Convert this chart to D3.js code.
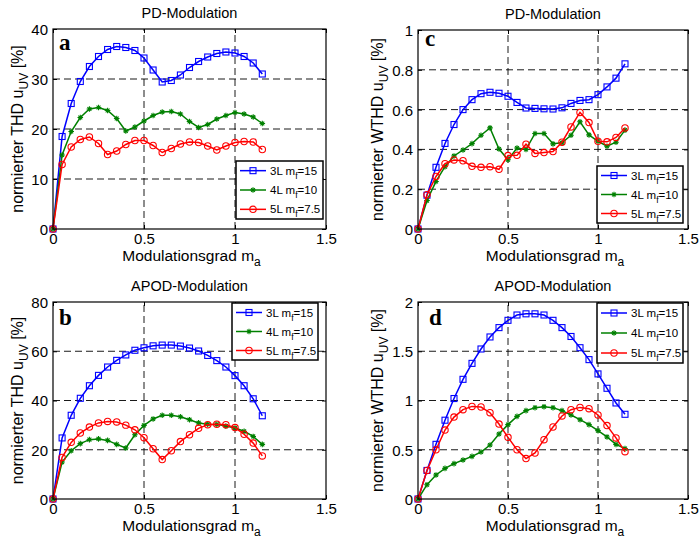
<!DOCTYPE html>
<html>
<head>
<meta charset="utf-8">
<script src="https://cdn.jsdelivr.net/npm/d3@7"></script>
<style>
  body { margin: 0; background: #fff; }
  text { font-family: "Liberation Sans", Arial, sans-serif; fill: #000; }
</style>
</head>
<body>
<svg id="fig" width="699" height="539"></svg>
<script>
// Modulation index samples (x axis, shared by all panels)
const ma = [0, 0.05, 0.1, 0.15, 0.2, 0.25, 0.3, 0.35, 0.4, 0.45, 0.5, 0.55,
            0.6, 0.65, 0.7, 0.75, 0.8, 0.85, 0.9, 0.95, 1.0, 1.05, 1.1, 1.15];

// (a) PD modulation, normalised THD [%]
const pdThd3L = [0, 18.5, 25.1, 29.5, 32.5, 34.5, 35.9, 36.5, 36.3, 35.7, 34.2, 31.8,
                 29.4, 29.7, 30.8, 32.3, 33.5, 34.4, 35.1, 35.4, 35.2, 34.5, 33.2, 31.0];
const pdThd4L = [0, 14.8, 19.5, 22.3, 24.0, 24.3, 23.7, 22.1, 19.6, 20.4, 21.6, 22.7,
                 23.4, 23.5, 23.0, 21.5, 20.3, 20.9, 22.0, 22.7, 23.3, 23.0, 22.4, 21.1];
const pdThd5L = [0, 12.9, 16.4, 17.9, 18.4, 17.1, 14.9, 15.6, 16.9, 17.7, 17.7, 16.7,
                 15.3, 16.1, 17.0, 17.4, 17.3, 16.6, 15.8, 16.6, 17.3, 17.5, 17.4, 15.9];

// (c) PD modulation, normalised WTHD [%]
const pdWthd3L = [0, 0.17, 0.31, 0.43, 0.525, 0.60, 0.65, 0.68, 0.687, 0.682, 0.667, 0.636,
                  0.608, 0.606, 0.604, 0.603, 0.609, 0.631, 0.646, 0.65, 0.675, 0.714, 0.758, 0.83];
const pdWthd4L = [0, 0.143, 0.239, 0.313, 0.367, 0.397, 0.429, 0.471, 0.508, 0.402, 0.348, 0.407,
                  0.40, 0.48, 0.48, 0.428, 0.433, 0.471, 0.539, 0.473, 0.441, 0.416, 0.436, 0.497];
const pdWthd5L = [0, 0.172, 0.264, 0.328, 0.347, 0.343, 0.315, 0.31, 0.313, 0.30, 0.369, 0.37,
                  0.426, 0.38, 0.384, 0.389, 0.436, 0.513, 0.586, 0.535, 0.441, 0.438, 0.46, 0.508];

// (b) APOD modulation, normalised THD [%]
const apodThd3L = [0, 24.8, 34.0, 40.9, 46.0, 50.2, 53.6, 56.3, 58.5, 60.4, 61.4, 62.2,
                   62.5, 62.5, 62.1, 61.3, 60.1, 58.3, 56.2, 53.6, 50.1, 46.0, 40.7, 33.8];
const apodThd4L = [0, 15.0, 19.6, 22.5, 24.1, 24.4, 23.8, 22.2, 20.7, 26.1, 29.9, 32.5,
                   34.0, 34.0, 33.4, 32.2, 30.9, 30.4, 30.3, 29.6, 28.8, 27.5, 25.4, 22.2];
const apodThd5L = [0, 16.9, 23.0, 26.8, 29.2, 30.9, 31.5, 31.3, 30.0, 28.1, 24.9, 20.4,
                   16.0, 19.6, 23.3, 26.1, 28.7, 30.2, 30.4, 30.2, 29.0, 26.3, 22.7, 17.5];

// (d) APOD modulation, normalised WTHD [%]
const apodWthd3L = [0, 0.29, 0.555, 0.80, 1.02, 1.215, 1.377, 1.523, 1.645, 1.74, 1.814, 1.868,
                    1.88, 1.88, 1.868, 1.814, 1.74, 1.65, 1.536, 1.415, 1.27, 1.124, 0.975, 0.86];
const apodWthd4L = [0, 0.145, 0.244, 0.311, 0.359, 0.396, 0.433, 0.477, 0.548, 0.66, 0.755, 0.839,
                    0.897, 0.927, 0.937, 0.927, 0.897, 0.853, 0.805, 0.755, 0.694, 0.63, 0.555, 0.511];
const apodWthd5L = [0, 0.29, 0.50, 0.70, 0.832, 0.907, 0.94, 0.934, 0.876, 0.761, 0.626, 0.50,
                    0.41, 0.467, 0.602, 0.731, 0.843, 0.907, 0.93, 0.917, 0.853, 0.745, 0.62, 0.48];

// Axis ticks
const xTicks = [0, 0.5, 1, 1.5];
const yTicksThdPD = [0, 10, 20, 30, 40];
const yTicksWthdPD = [0, 0.2, 0.4, 0.6, 0.8, 1];
const yTicksThdAPOD = [0, 20, 40, 60, 80];
const yTicksWthdAPOD = [0, 0.5, 1, 1.5, 2];

// Legend entries: prefix, subscript, suffix
const legendPrefix = ["3L m", "4L m", "5L m"];
const legendSub = ["f", "f", "f"];
const legendSuffix = ["=15", "=10", "=7.5"];

const seriesColors = ["#0000ff", "#008000", "#ff0000"];
const seriesMarkers = ["square", "star", "circle"];

const svg = d3.select("#fig");
svg.append("rect").attr("width", 699).attr("height", 539).attr("fill", "#fff");

const panels = [
  { letter: "a", title: "PD-Modulation", ylab: "normierter THD u", series: [pdThd3L, pdThd4L, pdThd5L],
    yTicks: yTicksThdPD, fmt: d => d3.format("d")(d),
    box: { l: 53, r: 326, t: 29, b: 229 }, ylabX: 23, letterPos: [59, 50],
    legend: { x: 236, y: 161, w: 87, h: 58 } },
  { letter: "c", title: "PD-Modulation", ylab: "normierter WTHD u", series: [pdWthd3L, pdWthd4L, pdWthd5L],
    yTicks: yTicksWthdPD, fmt: d => (d === 0 || d === 1) ? String(d) : d3.format(".1f")(d),
    box: { l: 418, r: 688, t: 30, b: 229 }, ylabX: 383, letterPos: [425, 46],
    legend: { x: 597, y: 166, w: 86, h: 57 } },
  { letter: "b", title: "APOD-Modulation", ylab: "normierter THD u", series: [apodThd3L, apodThd4L, apodThd5L],
    yTicks: yTicksThdAPOD, fmt: d => d3.format("d")(d),
    box: { l: 53, r: 326, t: 302, b: 499 }, ylabX: 23, letterPos: [59, 325],
    legend: { x: 232, y: 303, w: 86, h: 57 } },
  { letter: "d", title: "APOD-Modulation", ylab: "normierter WTHD u", series: [apodWthd3L, apodWthd4L, apodWthd5L],
    yTicks: yTicksWthdAPOD, fmt: d => String(d),
    box: { l: 418, r: 688, t: 302, b: 499 }, ylabX: 383, letterPos: [429, 325],
    legend: { x: 597, y: 303, w: 86, h: 60 } }
];

// Marker drawing helper
function drawMarker(g, kind, color, cx, cy) {
  if (kind === "square") {
    g.append("rect").attr("x", cx - 3).attr("y", cy - 3).attr("width", 6).attr("height", 6)
      .attr("fill", "none").attr("stroke", color).attr("stroke-width", 1.1);
  } else if (kind === "circle") {
    g.append("circle").attr("cx", cx).attr("cy", cy).attr("r", 3.2)
      .attr("fill", "none").attr("stroke", color).attr("stroke-width", 1.1);
  } else {
    const s = 2.8;
    const p = `M${cx - s},${cy}L${cx + s},${cy}M${cx},${cy - s}L${cx},${cy + s}` +
      `M${cx - s * 0.7},${cy - s * 0.7}L${cx + s * 0.7},${cy + s * 0.7}` +
      `M${cx - s * 0.7},${cy + s * 0.7}L${cx + s * 0.7},${cy - s * 0.7}`;
    g.append("path").attr("d", p).attr("stroke", color).attr("stroke-width", 1.1).attr("fill", "none");
  }
}

panels.forEach(p => {
  const B = p.box;
  const yMax = p.yTicks[p.yTicks.length - 1];
  const x = d3.scaleLinear().domain([0, 1.5]).range([B.l, B.r]);
  const y = d3.scaleLinear().domain([0, yMax]).range([B.b, B.t]);
  const g = svg.append("g");

  // Title
  g.append("text").attr("x", (B.l + B.r) / 2).attr("y", B.t - 11)
    .attr("text-anchor", "middle").attr("font-size", 14.5).text(p.title);

  // Dashed grid on interior ticks
  const grid = g.append("g").attr("stroke", "#000").attr("stroke-width", 0.9)
    .attr("stroke-dasharray", "7,4");
  xTicks.filter(t => t > 0 && t < 1.5).forEach(t => {
    grid.append("line").attr("x1", x(t)).attr("x2", x(t)).attr("y1", B.b).attr("y2", B.t);
  });
  p.yTicks.filter(t => t > 0 && t < yMax).forEach(t => {
    grid.append("line").attr("x1", B.l).attr("x2", B.r).attr("y1", y(t)).attr("y2", y(t));
  });

  // Axes (ticks pointing inward) built from d3 axis generators
  const ax = g.append("g").attr("transform", `translate(0,${B.b})`)
    .call(d3.axisBottom(x).tickValues(xTicks).tickSizeInner(-4).tickSizeOuter(0).tickPadding(4)
      .tickFormat(d => String(d)));
  const axTop = g.append("g").attr("transform", `translate(0,${B.t})`)
    .call(d3.axisTop(x).tickValues(xTicks).tickSizeInner(-4).tickSizeOuter(0).tickFormat(""));
  const ay = g.append("g").attr("transform", `translate(${B.l},0)`)
    .call(d3.axisLeft(y).tickValues(p.yTicks).tickSizeInner(-4).tickSizeOuter(0).tickPadding(5)
      .tickFormat(p.fmt));
  const ayR = g.append("g").attr("transform", `translate(${B.r},0)`)
    .call(d3.axisRight(y).tickValues(p.yTicks).tickSizeInner(-4).tickSizeOuter(0).tickFormat(""));
  [ax, axTop, ay, ayR].forEach(a => {
    a.select(".domain").remove();
    a.selectAll("line").attr("stroke", "#000");
    a.selectAll("text").attr("font-size", 15).attr("fill", "#000");
  });
  ay.selectAll("text").attr("dy", "0.36em");

  // Data lines and markers
  p.series.forEach((vals, i) => {
    const pts = ma.map((m, k) => [x(m), y(vals[k])]);
    g.append("path").attr("d", d3.line()(pts)).attr("fill", "none")
      .attr("stroke", seriesColors[i]).attr("stroke-width", 1.5);
    const mg = g.append("g");
    pts.forEach(pt => drawMarker(mg, seriesMarkers[i], seriesColors[i], pt[0], pt[1]));
  });

  // Box
  g.append("rect").attr("x", B.l).attr("y", B.t).attr("width", B.r - B.l).attr("height", B.b - B.t)
    .attr("fill", "none").attr("stroke", "#000").attr("stroke-width", 1.2);

  // Panel letter
  g.append("text").attr("x", p.letterPos[0]).attr("y", p.letterPos[1])
    .style("font-family", "'Liberation Serif', 'Times New Roman', serif").attr("font-weight", "bold")
    .attr("font-size", 23).text(p.letter);

  // X label
  const xl = g.append("text").attr("x", (B.l + B.r) / 2 + 2).attr("y", B.b + 32)
    .attr("text-anchor", "middle").attr("font-size", 15.5);
  xl.append("tspan").text("Modulationsgrad m");
  xl.append("tspan").attr("dy", 5).attr("font-size", 12).text("a");

  // Y label
  const yl = g.append("text")
    .attr("transform", `translate(${p.ylabX},${(B.t + B.b) / 2}) rotate(-90)`)
    .attr("text-anchor", "middle").attr("font-size", 16);
  yl.append("tspan").text(p.ylab);
  yl.append("tspan").attr("dy", 5).attr("font-size", 12).text("UV");
  yl.append("tspan").attr("dy", -5).text(" [%]");

  // Legend
  const L = p.legend;
  const lg = g.append("g");
  lg.append("rect").attr("x", L.x).attr("y", L.y).attr("width", L.w).attr("height", L.h)
    .attr("fill", "#fff").attr("stroke", "#000").attr("stroke-width", 1.5);
  const rowH = L.h / 3;
  legendPrefix.forEach((pre, i) => {
    const cy = L.y + rowH * (i + 0.5);
    lg.append("line").attr("x1", L.x + 4).attr("x2", L.x + 30).attr("y1", cy).attr("y2", cy)
      .attr("stroke", seriesColors[i]).attr("stroke-width", 1.5);
    drawMarker(lg, seriesMarkers[i], seriesColors[i], L.x + 17, cy);
    const t = lg.append("text").attr("x", L.x + 34).attr("y", cy + 4).attr("font-size", 11.5);
    t.append("tspan").text(pre);
    t.append("tspan").attr("dy", 4).attr("font-size", 8.5).text(legendSub[i]);
    t.append("tspan").attr("dy", -4).text(legendSuffix[i]);
  });
});
</script>
</body>
</html>
